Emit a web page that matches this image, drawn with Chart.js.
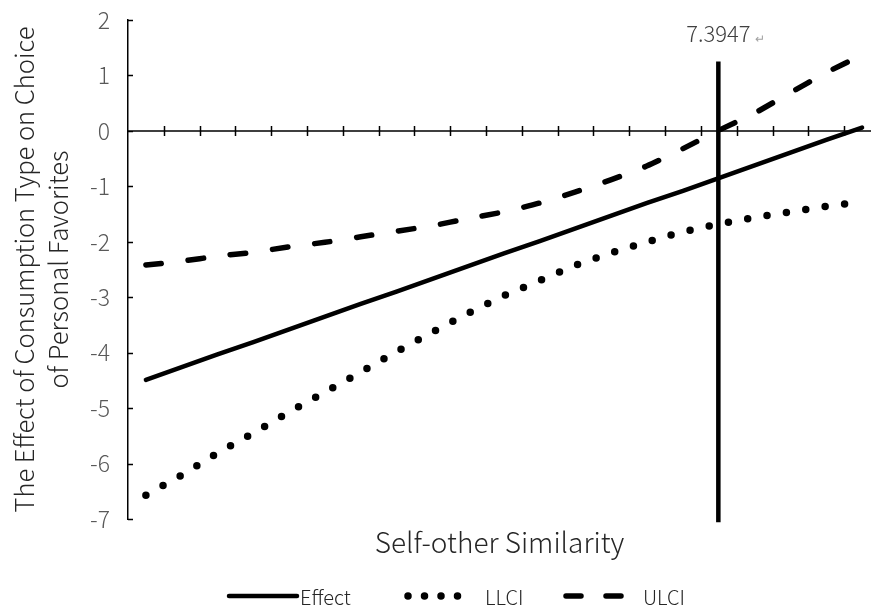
<!DOCTYPE html>
<html>
<head>
<meta charset="utf-8">
<title>Johnson-Neyman plot</title>
<script src="https://cdn.jsdelivr.net/npm/chart.js@4.4.1/dist/chart.umd.min.js"></script>
<style>
  html, body { margin: 0; padding: 0; background: #fff; }
  #wrap { width: 872px; height: 607px; }
</style>
</head>
<body>
<div id="wrap"><canvas id="jn" width="872" height="607"></canvas></div>
<script>
// ---- data ----
const similarity = [1.0, 1.4, 1.8, 2.2, 2.6, 3.0, 3.4, 3.8, 4.2, 4.6, 5.0, 5.4, 5.8, 6.2, 6.6, 7.0, 7.4, 7.8, 8.2, 8.6, 9.0];
const effect = [-4.49, -4.26, -4.03, -3.81, -3.58, -3.35, -3.12, -2.90, -2.67, -2.44, -2.21, -1.99, -1.76, -1.53, -1.30, -1.08, -0.85, -0.62, -0.39, -0.16, 0.06];
const llci   = [-6.57, -6.21, -5.81, -5.45, -5.07, -4.71, -4.35, -3.98, -3.63, -3.29, -2.97, -2.70, -2.42, -2.20, -2.00, -1.82, -1.68, -1.56, -1.46, -1.36, -1.28];
const ulci   = [-2.42, -2.35, -2.26, -2.19, -2.09, -2.01, -1.91, -1.81, -1.71, -1.58, -1.46, -1.30, -1.10, -0.88, -0.63, -0.32, 0.01, 0.32, 0.69, 1.05, 1.37];
const jnPoint = 7.3947;
const jnSpan = [1.25, -7.06];
const yTicks = [2, 1, 0, -1, -2, -3, -4, -5, -6, -7];
const xTicks = [1.2, 1.6, 2.0, 2.4, 2.8, 3.2, 3.6, 4.0, 4.4, 4.8, 5.2, 5.6, 6.0, 6.4, 6.8, 7.2, 7.6, 8.0, 8.4, 8.8];
const seriesNames = ['Effect', 'LLCI', 'ULCI'];
const yTitle = ['The Effect of Consumption Type on Choice', 'of Personal Favorites'];
const xTitle = 'Self-other Similarity';

const FONT = "'Noto Sans CJK SC', 'Noto Sans', sans-serif";

function pts(ys) { return similarity.map((x, i) => ({ x: x, y: ys[i] })); }

// axis at y = 0 with crossing ticks, inward ticks on y axis, JN label, legend
const decor = {
    id: 'decor',
    beforeDatasetsDraw(chart) {
        const { ctx, chartArea: a, scales: { x, y } } = chart;
        const y0 = y.getPixelForValue(0);
        ctx.save();
        ctx.strokeStyle = '#000';
        ctx.lineWidth = 1.5;
        ctx.beginPath();
        ctx.moveTo(a.left, y0); ctx.lineTo(a.right, y0);
        xTicks.forEach(v => {
            const px = Math.round(x.getPixelForValue(v)) + 0.5;
            ctx.moveTo(px, y0 - 5); ctx.lineTo(px, y0 + 5);
        });
        yTicks.forEach(v => {
            const py = Math.round(y.getPixelForValue(v)) + 0.5;
            ctx.moveTo(a.left, py); ctx.lineTo(a.left + 5, py);
        });
        ctx.stroke();
        ctx.restore();
    },
    afterDraw(chart) {
        const { ctx, scales: { x, y } } = chart;
        ctx.save();
        // JN label
        const jx = x.getPixelForValue(jnPoint);
        ctx.font = '300 22px ' + FONT;
        ctx.fillStyle = '#404040';
        ctx.textBaseline = 'middle';
        ctx.textAlign = 'center';
        ctx.fillText(jnPoint.toFixed(4), jx, 34);
        const w = ctx.measureText(jnPoint.toFixed(4)).width;
        ctx.font = '12px ' + FONT;
        ctx.fillStyle = '#a0a0a0';
        ctx.textAlign = 'left';
        ctx.fillText('\u21B5', jx + w / 2 + 4, 38);

        // legend
        const ly = 596;
        const items = [
            { ds: 0, x0: 229, x1: 297, tx: 300 },
            { ds: 1, x0: 408, x1: 458, tx: 485, dash: [0, 16.5] },
            { ds: 2, x0: 566, x1: 622, tx: 643, dash: [15, 25] }
        ];
        items.forEach(it => {
            const d = chart.data.datasets[it.ds];
            ctx.strokeStyle = d.borderColor;
            ctx.lineWidth = d.borderWidth;
            ctx.lineCap = d.borderCapStyle || 'butt';
            ctx.setLineDash(it.dash || []);
            ctx.beginPath();
            ctx.moveTo(it.x0, ly); ctx.lineTo(it.x1, ly);
            ctx.stroke();
            ctx.setLineDash([]);
            ctx.font = '300 20px ' + FONT;
            ctx.fillStyle = '#262626';
            ctx.textAlign = 'left';
            ctx.textBaseline = 'middle';
            ctx.fillText(d.label, it.tx, ly + 1);
        });
        ctx.restore();
    }
};

new Chart(document.getElementById('jn'), {
    type: 'line',
    data: {
        datasets: [
            { label: seriesNames[0], data: pts(effect), borderColor: '#000', borderWidth: 4.5, borderCapStyle: 'round', pointRadius: 0, tension: 0 },
            { label: seriesNames[1], data: pts(llci), borderColor: '#000', borderWidth: 7.5, borderDash: [0, 19.6], borderCapStyle: 'round', pointRadius: 0, tension: 0 },
            { label: seriesNames[2], data: pts(ulci), borderColor: '#000', borderWidth: 5.5, borderDash: [15.5, 27], borderCapStyle: 'round', pointRadius: 0, tension: 0.2 },
            { label: 'JN', data: jnSpan.map(v => ({ x: jnPoint, y: v })), borderColor: '#000', borderWidth: 4.5, borderCapStyle: 'butt', pointRadius: 0, clip: false }
        ]
    },
    options: {
        responsive: false,
        animation: false,
        devicePixelRatio: 1,
        layout: { padding: { left: 6, top: 20, right: 1, bottom: 48 } },
        plugins: { legend: { display: false }, tooltip: { enabled: false } },
        scales: {
            x: {
                type: 'linear', min: 0.8, max: 9.1,
                afterFit: s => { s.height = 40; s.paddingLeft = 0; s.paddingRight = 0; },
                ticks: { display: false },
                grid: { display: false },
                border: { display: false },
                title: { display: true, text: xTitle, color: '#262626', font: { family: FONT, size: 28, weight: 300 }, padding: { top: 0, bottom: 0 } }
            },
            y: {
                min: -7, max: 2,
                afterBuildTicks: s => { s.ticks = yTicks.map(v => ({ value: v })); },
                afterFit: s => { s.width = 122; s.paddingTop = 0; s.paddingBottom = 0; },
                ticks: { color: '#595959', font: { family: FONT, size: 23, weight: 300 }, padding: 10 },
                grid: { display: false },
                border: { display: true, color: '#000', width: 1.5 },
                title: { display: true, text: yTitle, color: '#262626', font: { family: FONT, size: 25.5, weight: 300, lineHeight: 1.33 }, padding: { top: 1, bottom: 0 } }
            }
        }
    },
    plugins: [decor]
});
</script>
</body>
</html>
